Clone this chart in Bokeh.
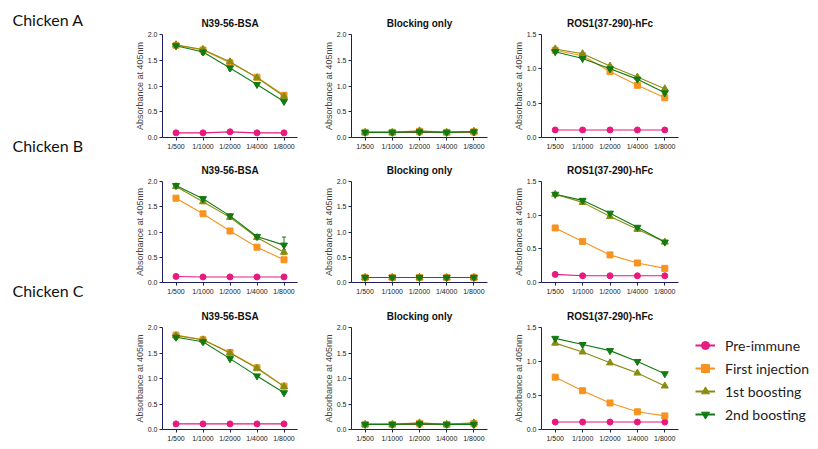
from bokeh.plotting import figure
from bokeh.layouts import row, column
from bokeh.models import (FactorRange, Range1d, Legend, LegendItem, Label, Whisker,
                          ColumnDataSource, TeeHead, NumeralTickFormatter, FixedTicker)
from bokeh.embed import file_html
from bokeh.resources import INLINE

DILUTIONS = ["1/500", "1/1000", "1/2000", "1/4000", "1/8000"]
SERIES = ["Pre-immune", "First injection", "1st boosting", "2nd boosting"]
CHICKENS = ["Chicken A", "Chicken B", "Chicken C"]
ANTIGENS = ["N39-56-BSA", "Blocking only", "ROS1(37-290)-hFc"]
Y_MAX = [2.0, 2.0, 1.5]
Y_LABEL = "Absorbance at 405nm"

# Chicken A
A_BSA_PRE = [0.09, 0.09, 0.11, 0.09, 0.09]
A_BSA_FIRST = [1.79, 1.70, 1.45, 1.17, 0.82]
A_BSA_B1 = [1.80, 1.71, 1.47, 1.16, 0.80]
A_BSA_B2 = [1.78, 1.66, 1.35, 1.03, 0.70]
A_BSA_B2_ERR = [0.03, 0.05, 0.04, 0.02, 0.02]
A_BLK_PRE = [0.10, 0.10, 0.10, 0.10, 0.10]
A_BLK_FIRST = [0.10, 0.10, 0.12, 0.10, 0.11]
A_BLK_B1 = [0.10, 0.10, 0.13, 0.10, 0.12]
A_BLK_B2 = [0.10, 0.10, 0.11, 0.10, 0.11]
A_ROS_PRE = [0.11, 0.11, 0.11, 0.11, 0.11]
A_ROS_FIRST = [1.27, 1.19, 0.96, 0.76, 0.58]
A_ROS_B1 = [1.29, 1.22, 1.04, 0.88, 0.71]
A_ROS_B2 = [1.25, 1.15, 1.00, 0.85, 0.65]

# Chicken B
B_BSA_PRE = [0.12, 0.11, 0.11, 0.11, 0.11]
B_BSA_FIRST = [1.67, 1.36, 1.02, 0.70, 0.45]
B_BSA_B1 = [1.90, 1.60, 1.29, 0.89, 0.60]
B_BSA_B1_ERR = [0.02, 0.04, 0.04, 0.03, 0.05]
B_BSA_B2 = [1.92, 1.66, 1.32, 0.91, 0.74]
B_BSA_B2_ERR = [0.03, 0.03, 0.03, 0.04, 0.16]
B_BLK_PRE = [0.10, 0.10, 0.10, 0.10, 0.10]
B_BLK_FIRST = [0.10, 0.10, 0.10, 0.10, 0.10]
B_BLK_B1 = [0.10, 0.10, 0.10, 0.10, 0.10]
B_BLK_B2 = [0.10, 0.10, 0.10, 0.10, 0.10]
B_ROS_PRE = [0.12, 0.10, 0.10, 0.10, 0.10]
B_ROS_FIRST = [0.81, 0.61, 0.41, 0.29, 0.21]
B_ROS_B1 = [1.31, 1.19, 0.98, 0.79, 0.60]
B_ROS_B2 = [1.31, 1.22, 1.03, 0.82, 0.60]

# Chicken C
C_BSA_PRE = [0.11, 0.11, 0.11, 0.11, 0.11]
C_BSA_FIRST = [1.85, 1.76, 1.51, 1.21, 0.85]
C_BSA_B1 = [1.84, 1.76, 1.50, 1.20, 0.84]
C_BSA_B2 = [1.81, 1.72, 1.39, 1.05, 0.72]
C_BSA_B2_ERR = [0.04, 0.04, 0.03, 0.02, 0.02]
C_BLK_PRE = [0.10, 0.10, 0.10, 0.10, 0.10]
C_BLK_FIRST = [0.10, 0.10, 0.12, 0.10, 0.12]
C_BLK_B1 = [0.10, 0.10, 0.13, 0.10, 0.13]
C_BLK_B2 = [0.10, 0.10, 0.11, 0.10, 0.10]
C_ROS_PRE = [0.11, 0.11, 0.11, 0.11, 0.11]
C_ROS_FIRST = [0.77, 0.57, 0.39, 0.26, 0.20]
C_ROS_B1 = [1.27, 1.14, 0.98, 0.83, 0.64]
C_ROS_B2 = [1.34, 1.25, 1.16, 1.00, 0.82]

PANELS = [
    [(A_BSA_PRE, A_BSA_FIRST, A_BSA_B1, A_BSA_B2),
     (A_BLK_PRE, A_BLK_FIRST, A_BLK_B1, A_BLK_B2),
     (A_ROS_PRE, A_ROS_FIRST, A_ROS_B1, A_ROS_B2)],
    [(B_BSA_PRE, B_BSA_FIRST, B_BSA_B1, B_BSA_B2),
     (B_BLK_PRE, B_BLK_FIRST, B_BLK_B1, B_BLK_B2),
     (B_ROS_PRE, B_ROS_FIRST, B_ROS_B1, B_ROS_B2)],
    [(C_BSA_PRE, C_BSA_FIRST, C_BSA_B1, C_BSA_B2),
     (C_BLK_PRE, C_BLK_FIRST, C_BLK_B1, C_BLK_B2),
     (C_ROS_PRE, C_ROS_FIRST, C_ROS_B1, C_ROS_B2)],
]
ERRORS = {
    (0, 0, 3): A_BSA_B2_ERR,
    (1, 0, 2): B_BSA_B1_ERR,
    (1, 0, 3): B_BSA_B2_ERR,
    (2, 0, 3): C_BSA_B2_ERR,
}

COLORS = ["#e8197f", "#f7931e", "#8a8c12", "#127a12"]
MARKERS = ["circle", "square", "triangle", "inverted_triangle"]
SIZES = [6, 6, 7, 7]
AXIS_COLOR = "#1e1e5a"
FONT = "Liberation Sans"

ROW_TOP = [34, 27, 27]
ROW_FRAME_H = [103, 101, 102]
ROW_BOTTOM = [17, 18, 20]
COL_LEFT = [34, 33, 33]
COL_FRAME_W = [135, 136, 137]
COL_RIGHT = [21, 21, 12]
LABEL_W = 128
LEGEND_W = 128

rows = []
for r in range(3):
    figs = []
    for c in range(3):
        p = figure(
            x_range=FactorRange(*DILUTIONS),
            y_range=Range1d(0, Y_MAX[c]),
            frame_width=COL_FRAME_W[c], frame_height=ROW_FRAME_H[r],
            min_border_left=COL_LEFT[c], min_border_right=COL_RIGHT[c],
            min_border_top=ROW_TOP[r], min_border_bottom=ROW_BOTTOM[r],
            toolbar_location=None, output_backend="svg",
            outline_line_color=None, background_fill_color="white",
            title=ANTIGENS[c],
        )
        p.title.align = "center"
        p.title.text_font = FONT
        p.title.text_font_size = "10px"
        p.title.text_font_style = "bold"
        p.title.text_color = "#111111"
        p.title.standoff = 12
        p.grid.visible = False

        p.yaxis.ticker = FixedTicker(ticks=[i * 0.5 for i in range(int(Y_MAX[c] / 0.5) + 1)])
        p.yaxis.formatter = NumeralTickFormatter(format="0.0")
        p.yaxis.axis_label = Y_LABEL
        p.yaxis.axis_label_text_font = FONT
        p.yaxis.axis_label_text_font_size = "9px"
        p.yaxis.axis_label_text_font_style = "normal"
        p.yaxis.axis_label_standoff = 0
        for ax in (p.xaxis[0], p.yaxis[0]):
            ax.axis_line_color = AXIS_COLOR
            ax.major_tick_line_color = AXIS_COLOR
            ax.minor_tick_line_color = None
            ax.major_tick_out = 3
            ax.major_tick_in = 0
            ax.major_label_standoff = 2
            ax.major_label_text_font = FONT
            ax.major_label_text_font_size = "7px"
            ax.major_label_text_color = "#222222"

        for s in range(4):
            ys = PANELS[r][c][s]
            src = ColumnDataSource(dict(x=DILUTIONS, y=ys))
            p.line("x", "y", source=src, line_color=COLORS[s], line_width=1.1)
            p.scatter("x", "y", source=src, marker=MARKERS[s], size=SIZES[s],
                      fill_color=COLORS[s], line_color=COLORS[s])
            err = ERRORS.get((r, c, s))
            if err is not None:
                esrc = ColumnDataSource(dict(
                    x=DILUTIONS,
                    lower=[v - e for v, e in zip(ys, err)],
                    upper=[v + e for v, e in zip(ys, err)]))
                p.add_layout(Whisker(source=esrc, base="x", lower="lower", upper="upper",
                                     line_color=COLORS[s], line_width=1,
                                     upper_head=TeeHead(size=4, line_color=COLORS[s]),
                                     lower_head=TeeHead(size=4, line_color=COLORS[s])))
        figs.append(p)
    if r == 2:
        h = ROW_TOP[r] + ROW_FRAME_H[r] + ROW_BOTTOM[r]
        # legend panel: same series, drawn outside the visible y range so only the key shows
        lf = figure(width=LEGEND_W, height=h, x_range=FactorRange(*DILUTIONS),
                    y_range=Range1d(10, 11),
                    min_border=0, x_axis_type=None, y_axis_type=None,
                    outline_line_color=None, toolbar_location=None, output_backend="svg")
        lf.grid.visible = False
        items = []
        for s in range(4):
            src = ColumnDataSource(dict(x=DILUTIONS, y=PANELS[2][2][s]))
            ln = lf.line("x", "y", source=src, line_color=COLORS[s], line_width=2)
            sc = lf.scatter("x", "y", source=src, marker=MARKERS[s], size=SIZES[s] + 2,
                            fill_color=COLORS[s], line_color=COLORS[s])
            items.append(LegendItem(label=SERIES[s], renderers=[ln, sc]))
        legend = Legend(items=items, location=(5, 5), orientation="vertical",
                        border_line_alpha=0, background_fill_alpha=0,
                        margin=0, padding=0, glyph_width=20, glyph_height=20,
                        label_height=20, spacing=3, label_standoff=10,
                        label_text_font="Lato", label_text_font_size="14px",
                        label_text_color="#222222")
        lf.add_layout(legend)
        figs.append(lf)
    rows.append(row(*figs, spacing=0))

labels = figure(width=LABEL_W, height=449, x_range=Range1d(0, LABEL_W), y_range=Range1d(449, 0),
                min_border=0, x_axis_type=None, y_axis_type=None, outline_line_color=None,
                toolbar_location=None, output_backend="svg")
labels.grid.visible = False
LABEL_Y = [18.5, 145, 290]
for name, yy in zip(CHICKENS, LABEL_Y):
    labels.add_layout(Label(x=12, y=yy, text=name, text_baseline="middle",
                            text_font="Lato", text_font_size="16px", text_color="#111111"))

layout = row(labels, column(*rows, spacing=0), spacing=0)
open("out.html", "w").write(file_html(layout, INLINE))
